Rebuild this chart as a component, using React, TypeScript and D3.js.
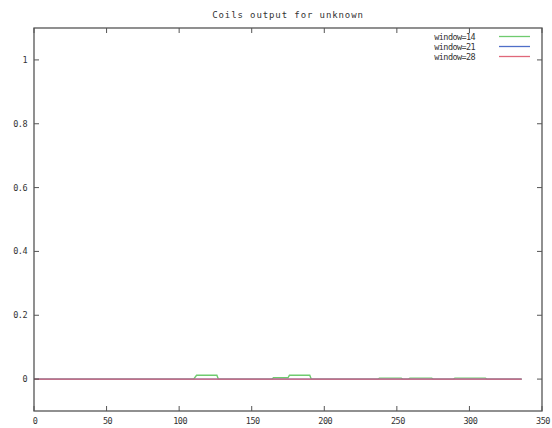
import * as d3 from "d3";
import React, { useRef, useEffect } from "react";

// x positions (residue) and values
const greenX = [0, 110, 112, 126, 127, 164, 165, 175, 176, 190, 191, 237, 238, 253, 254, 258, 259, 274, 275, 289, 290, 311, 312, 336];
const greenY = [0, 0, 0.012, 0.012, 0, 0, 0.004, 0.004, 0.012, 0.012, 0, 0, 0.003, 0.003, 0, 0, 0.003, 0.003, 0, 0, 0.003, 0.003, 0, 0];
const blueX = [0, 336];
const blueY = [0, 0];
const redX = [0, 336];
const redY = [0, 0];

const seriesNames = ["window=14", "window=21", "window=28"];
const seriesColors = ["#6fcb6f", "#4f6fc8", "#e0687a"];

const xTicks = [0, 50, 100, 150, 200, 250, 300, 350];
const yTicks = [0, 0.2, 0.4, 0.6, 0.8, 1];

function App() {
  const ref = useRef<SVGSVGElement>(null);

  useEffect(() => {
    const svg = d3.select(ref.current);
    svg.selectAll("*").remove();

    const left = 34,
      right = 542,
      top = 28,
      bottom = 411;

    const x = d3.scaleLinear().domain([0, 350]).range([left, right]);
    const y = d3.scaleLinear().domain([-0.1, 1.1]).range([bottom, top]);

    const font = "'DejaVu Sans Mono', monospace";
    const frameColor = "#555";
    const textColor = "#333";

    svg.append("rect").attr("width", 552).attr("height", 428).attr("fill", "white");

    // title
    svg
      .append("text")
      .attr("x", (left + right) / 2)
      .attr("y", 18)
      .attr("text-anchor", "middle")
      .attr("font-family", font)
      .attr("font-size", "9px")
      .attr("letter-spacing", "0.9px")
      .attr("fill", textColor)
      .text("Coils output for unknown");

    // series, drawn in gnuplot order so red ends up on top
    const line = d3
      .line<[number, number]>()
      .x((d) => x(d[0]))
      .y((d) => y(d[1]));

    const allSeries = [
      d3.zip(greenX, greenY),
      d3.zip(blueX, blueY),
      d3.zip(redX, redY),
    ] as [number, number][][];

    allSeries.forEach((s, i) => {
      svg
        .append("path")
        .datum(s)
        .attr("d", line)
        .attr("fill", "none")
        .attr("stroke", seriesColors[i])
        .attr("stroke-width", 1.4);
    });

    // frame
    svg
      .append("rect")
      .attr("x", left)
      .attr("y", top)
      .attr("width", right - left)
      .attr("height", bottom - top)
      .attr("fill", "none")
      .attr("stroke", frameColor)
      .attr("stroke-width", 1.3);

    const tickLen = 5;

    // x ticks, mirrored on top
    xTicks.forEach((t) => {
      const px = x(t);
      svg.append("line").attr("x1", px).attr("x2", px).attr("y1", bottom).attr("y2", bottom - tickLen).attr("stroke", frameColor);
      svg.append("line").attr("x1", px).attr("x2", px).attr("y1", top).attr("y2", top + tickLen).attr("stroke", frameColor);
      svg
        .append("text")
        .attr("x", px + 1)
        .attr("y", 424)
        .attr("text-anchor", "middle")
        .attr("font-family", font)
        .attr("font-size", "8.5px")
        .attr("letter-spacing", "-0.5px")
        .attr("fill", textColor)
        .text(t);
    });

    // y ticks, mirrored on right
    yTicks.forEach((t) => {
      const py = y(t);
      svg.append("line").attr("x1", left).attr("x2", left + tickLen).attr("y1", py).attr("y2", py).attr("stroke", frameColor);
      svg.append("line").attr("x1", right).attr("x2", right - tickLen).attr("y1", py).attr("y2", py).attr("stroke", frameColor);
      svg
        .append("text")
        .attr("x", 27)
        .attr("y", py + 3)
        .attr("text-anchor", "end")
        .attr("font-family", font)
        .attr("font-size", "8.5px")
        .attr("letter-spacing", "-0.5px")
        .attr("fill", textColor)
        .text(t);
    });

    // legend
    seriesNames.forEach((name, i) => {
      const ly = 36.5 + i * 10;
      svg
        .append("text")
        .attr("x", 475)
        .attr("y", ly + 3)
        .attr("text-anchor", "end")
        .attr("font-family", font)
        .attr("font-size", "8.5px")
        .attr("letter-spacing", "-0.6px")
        .attr("fill", textColor)
        .text(name);
      svg
        .append("line")
        .attr("x1", 499)
        .attr("x2", 530)
        .attr("y1", ly)
        .attr("y2", ly)
        .attr("stroke", seriesColors[i])
        .attr("stroke-width", 1.3);
    });
  }, []);

  return (
    <div>
      <style>{`body{margin:0}`}</style>
      <svg ref={ref} width={552} height={428} style={{ display: "block" }} />
    </div>
  );
}

export default App;
